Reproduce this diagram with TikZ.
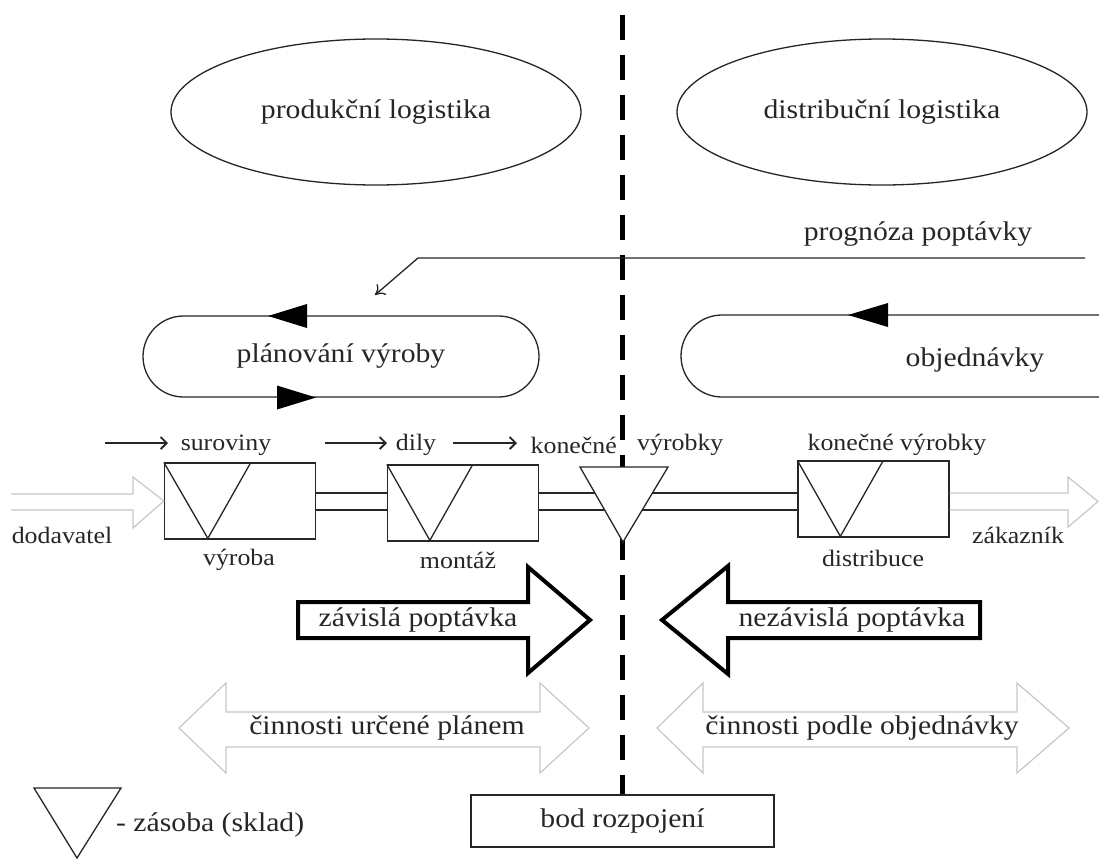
\documentclass[tikz,border=0pt]{standalone}
\usepackage{fontspec}
\setmainfont[FakeStretch=1.1]{Liberation Serif}
\usetikzlibrary{arrows.meta,shapes.geometric,shapes.misc}
\begin{document}
\begin{tikzpicture}[x=1pt,y=-1pt,line join=miter,
  big/.style={font=\fontsize{27}{32}\selectfont,inner sep=0pt,text=black!85},
  small/.style={font=\fontsize{23.5}{28}\selectfont,inner sep=0pt,text=black!85},
  thinline/.style={line width=1.3pt,draw=black!85},
  lightline/.style={line width=1.2pt,draw=black!22},
  boldline/.style={line width=4pt,draw=black},
  divider/.style={line width=4.5pt,dash pattern=on 25pt off 15pt},
  procbox/.style={thinline,minimum width=151pt,minimum height=76pt,inner sep=0pt},
  smallarrow/.style={thinline,-{Straight Barb[length=6pt,width=12pt,line width=1.8pt]}},
  openarrow/.style={thinline,-{To[length=9pt,width=14pt]}}
]
\useasboundingbox (0,0) rectangle (1099,860);
\fill[white] (0,0) rectangle (1099,860);

% top ellipses
\node[ellipse,thinline,draw,minimum width=410pt,minimum height=146pt,big] (prodlog) at (376,112) {produkční logistika};
\node[ellipse,thinline,draw,minimum width=410pt,minimum height=146pt,big] (distlog) at (882,112) {distribuční logistika};

% bottom box and dividing line
\node[thinline,draw,minimum width=303pt,minimum height=52pt,inner sep=0pt,big] (bod) at (622.5,821) {bod rozpojení};
\coordinate (divtop) at (622.5,15);
\draw[divider] (divtop) -- (bod.north);

% forecast arrow
\node[big,anchor=center] (prog) at (918,234) {prognóza poptávky};
\coordinate (progR) at (1085,258);
\coordinate (progB) at (418,258);
\coordinate (progT) at (375,295);
\draw[openarrow] (progR) -- (progB) -- (progT);

% planning loop
\node[rounded rectangle,thinline,draw,minimum width=396pt,minimum height=81pt,inner sep=0pt,big] (plan) at (341,356.5) {plánování výroby};
\fill (268,316) -- (307,304) -- (307,328) -- cycle;
\fill (316,397.5) -- (277,385.5) -- (277,409.5) -- cycle;

% orders loop
\coordinate (objTR) at (1099,315);
\coordinate (objBR) at (1099,397);
\draw[thinline,rounded corners=41pt] (objTR) -- (681,315) -- (681,397) -- (objBR);
\node[big] (obj) at (975,360) {objednávky};
\fill (848,315) -- (888,303) -- (888,327) -- cycle;

% process row
\coordinate (pt) at (0,493);
\coordinate (pb) at (0,510);
\node[procbox,draw] (vyr) at (240,501) {};
\node[procbox,draw] (mon) at (463,503) {};
\node[procbox,draw] (dis) at (873.5,499) {};
\draw[thinline] (vyr.north west) -- ++(44,76) -- ++(43,-76);
\draw[thinline] (mon.north west) -- ++(43,76) -- ++(43,-76);
\draw[thinline] (dis.north west) -- ++(43,76) -- ++(43,-76);
\draw[thinline] (vyr.east |- pt) -- (mon.west |- pt);
\draw[thinline] (vyr.east |- pb) -- (mon.west |- pb);
\draw[thinline] (mon.east |- pt) -- (dis.west |- pt);
\draw[thinline] (mon.east |- pb) -- (dis.west |- pb);
% stock triangle at decoupling point
\coordinate (stk) at (623,542);
\filldraw[thinline,fill=white] (580,467) -- (668,467) -- (stk) -- cycle;

% supplier and customer arrows
\draw[lightline] (11,494) -- (133,494) -- (133,477) -- (vyr.west) -- (133,528) -- (133,510) -- (11,510);
\draw[lightline] (dis.east |- pt) -- (1068,493) -- (1068,477) -- (1098,501.5) -- (1068,527) -- (1068,510) -- (dis.east |- pb);

% labels of process row
\node[small] (sur) at (226,445) {suroviny};
\node[small] (dil) at (416,445) {dily};
\node[small,anchor=east] (kon1) at (617,445) {konečné};
\node[small,anchor=west] (vyb1) at (637,445) {výrobky};
\node[small] (kon2) at (897,445) {konečné výrobky};
\coordinate (a1s) at (105,443); \coordinate (a1e) at (168,443);
\coordinate (a2s) at (325,443); \coordinate (a2e) at (387,443);
\coordinate (a3s) at (453,443); \coordinate (a3e) at (517,443);
\draw[smallarrow] (a1s) -- (a1e);
\draw[smallarrow] (a2s) -- (a2e);
\draw[smallarrow] (a3s) -- (a3e);
\node[small] (dod) at (62,535) {dodavatel};
\node[small] (vyrl) at (239,560) {výroba};
\node[small] (monl) at (458,560) {montáž};
\node[small] (disl) at (873,558) {distribuce};
\node[small] (zak) at (1018,535) {zákazník};

% demand arrows
\draw[boldline] (298,602) -- (528,602) -- (528,567) -- (590,620) -- (528,673) -- (528,638) -- (298,638) -- cycle;
\node[big] (zav) at (418,620) {závislá poptávka};
\draw[boldline] (980,602) -- (728,602) -- (728,566) -- (662,620) -- (728,674) -- (728,638) -- (980,638) -- cycle;
\node[big] (nez) at (852,620) {nezávislá poptávka};

% activity double arrows
\draw[lightline] (179,728) -- (226,683) -- (226,712) -- (540,712) -- (540,683) -- (589,728) -- (540,773) -- (540,747) -- (226,747) -- (226,773) -- cycle;
\node[big] (plnact) at (387,728) {činnosti určené plánem};
\draw[lightline] (657,728) -- (703,683) -- (703,712) -- (1017,712) -- (1017,683) -- (1069,728) -- (1017,773) -- (1017,747) -- (703,747) -- (703,773) -- cycle;
\node[big] (ordact) at (862,728) {činnosti podle objednávky};

% legend
\coordinate (legtip) at (77,858);
\draw[thinline] (34,788) -- (121,788) -- (legtip) -- cycle;
\node[big,anchor=west] (leg) at (116,825) {- zásoba (sklad)};
\end{tikzpicture}
\end{document}
